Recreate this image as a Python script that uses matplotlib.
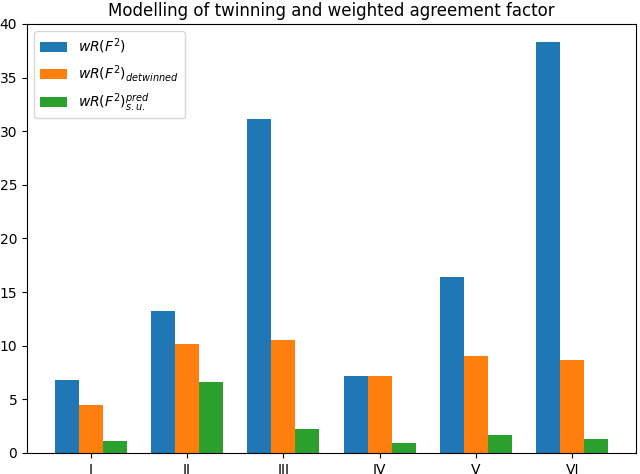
import matplotlib
matplotlib.use("Agg")
import matplotlib.pyplot as plt
import numpy as np

categories = ["I", "II", "III", "IV", "V", "VI"]
wR = [6.8, 13.2, 31.1, 7.2, 16.4, 38.3]
wR_detwinned = [4.5, 10.2, 10.5, 7.2, 9.0, 8.7]
wR_pred = [1.1, 6.6, 2.2, 0.95, 1.7, 1.3]

labels = [r"$wR(F^2)$", r"$wR(F^2)_{detwinned}$", r"$wR(F^2)_{s.u.}^{pred}$"]

fig = plt.figure(figsize=(6.4, 4.74), dpi=100)
ax = fig.add_axes([27/640, 21/474, (636-27)/640, (453-24)/474])
x = np.arange(len(categories))
w = 0.25
ax.bar(x - w, wR, w, label=labels[0], color="#1f77b4")
ax.bar(x, wR_detwinned, w, label=labels[1], color="#ff7f0e")
ax.bar(x + w, wR_pred, w, label=labels[2], color="#2ca02c")
ax.set_xticks(x)
ax.set_xticklabels(categories)
ax.set_ylim(0, 40)
ax.set_title("Modelling of twinning and weighted agreement factor")
ax.legend(loc="upper left")
fig.savefig("out.png", dpi=100)
